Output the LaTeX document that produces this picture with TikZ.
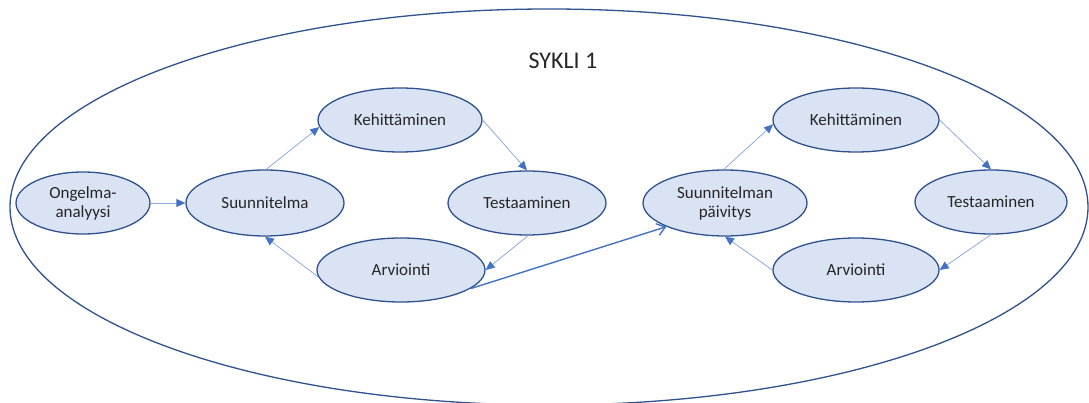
\documentclass[tikz,border=0pt]{standalone}
\usepackage{fontspec}
\setmainfont{Carlito}
\usetikzlibrary{arrows.meta,shapes.geometric}

\definecolor{reuna}{HTML}{2F528F}
\definecolor{tayte}{HTML}{DAE3F3}
\definecolor{nuolivari}{HTML}{4472C4}
\definecolor{ohut}{HTML}{8FAADC}
\definecolor{teksti}{HTML}{262626}

\begin{document}
\begin{tikzpicture}[
  x=1pt, y=-1pt,
  vaihe/.style={ellipse, draw=reuna, line width=1.3pt, fill=tayte,
                inner sep=0pt, minimum width=164pt, minimum height=64pt,
                align=center, text=teksti, font=\fontsize{17}{19}\selectfont},
  nuoli/.style={-{Triangle[length=9pt,width=8pt,color=nuolivari]}, draw=ohut, line width=0.8pt},
  paanuoli/.style={-{Straight Barb[length=8pt,width=12pt]}, draw=nuolivari, line width=1.4pt},
]
\useasboundingbox (0,0) rectangle (1089,403);

% ---- outer cycle ----
\draw[draw=reuna, line width=1.3pt] (549,207) ellipse [x radius=539, y radius=198];
\node[text=teksti, font=\fontsize{24}{28}\selectfont] (sykli) at (563,61) {SYKLI 1};

% ---- first round ----
\node[vaihe, minimum width=134pt, minimum height=62pt] (ong) at (83,203) {Ongelma-\\analyysi};
\node[vaihe, minimum width=158pt, minimum height=66pt] (suun) at (265,203) {Suunnitelma};
\node[vaihe] (keh1) at (400,120) {Kehittäminen};
\node[vaihe, minimum width=158pt] (test1) at (527,203) {Testaaminen};
\node[vaihe, minimum width=168pt] (arv1) at (401,270) {Arviointi};

% ---- second round ----
\node[vaihe, minimum height=66pt] (paiv) at (725,203) {Suunnitelman\\päivitys};
\node[vaihe, minimum width=166pt] (keh2) at (856,120) {Kehittäminen};
\node[vaihe, minimum width=152pt] (test2) at (991,202) {Testaaminen};
\node[vaihe, minimum width=166pt] (arv2) at (856,270) {Arviointi};

% ---- connectors ----
\draw[nuoli] (ong.east) -- (suun.west);
\draw[nuoli] (suun.88) -- (keh1.185);
\draw[nuoli] (keh1.0) -- (test1.90);
\draw[nuoli] (test1.272) -- (arv1.0);
\draw[nuoli] (arv1.185) -- (suun.270);

\draw[paanuoli] (arv1.345) -- (paiv.202);

\draw[nuoli] (paiv.92) -- (keh2.183);
\draw[nuoli] (keh2.0) -- (test2.90);
\draw[nuoli] (test2.270) -- (arv2.0);
\draw[nuoli] (arv2.180) -- (paiv.270);
\end{tikzpicture}
\end{document}
